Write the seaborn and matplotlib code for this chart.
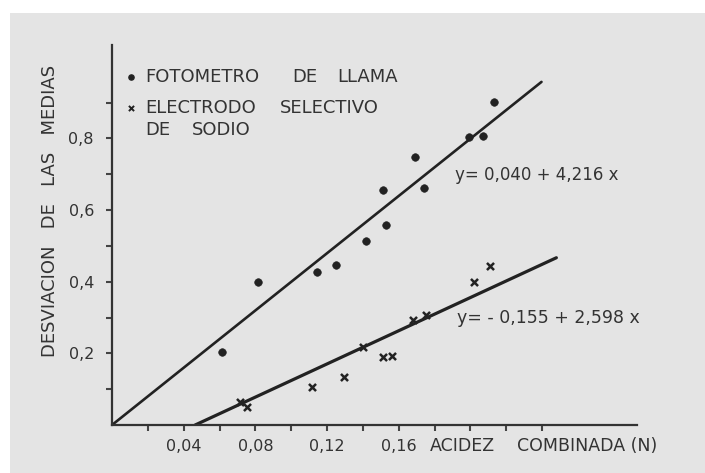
import numpy as np
import pandas as pd
import seaborn as sns
import matplotlib
matplotlib.use('Agg')
import matplotlib.pyplot as plt
from matplotlib.ticker import FixedLocator, FuncFormatter

# fotometro de llama (dots)
foto_x = [0.0615, 0.0816, 0.1145, 0.125, 0.142, 0.151, 0.153, 0.169, 0.174, 0.199, 0.207, 0.213]
foto_y = [0.204, 0.400, 0.427, 0.447, 0.514, 0.656, 0.559, 0.749, 0.662, 0.804, 0.807, 0.902]

# electrodo selectivo de sodio (crosses)
elec_x = [0.0715, 0.0754, 0.1117, 0.1296, 0.140, 0.151, 0.156, 0.168, 0.175, 0.202, 0.211]
elec_y = [0.064, 0.050, 0.106, 0.134, 0.218, 0.190, 0.193, 0.293, 0.307, 0.399, 0.444]

# fitted lines as drawn on the original figure
line1_x = [0.0, 0.2397]
line1_y = [0.0, 0.958]
line2_x = [0.0464, 0.248]
line2_y = [0.0, 0.467]

eq1 = 'y= 0,040 + 4,216 x'
eq2 = 'y= - 0,155 + 2,598 x'
xlabels = [0.04, 0.08, 0.12, 0.16]
ylabels = [0.2, 0.4, 0.6, 0.8]

bg = '#e4e4e4'
ink = '#222222'
txt = '#333333'
sns.set_style('white', {'axes.facecolor': bg, 'figure.facecolor': bg})
plt.rcParams['font.family'] = ['DejaVu Sans']

W, H = 705, 473
fig = plt.figure(figsize=(7.05, 4.73), dpi=100)
fig.patch.set_facecolor(bg)
# white strip on top/left of the scan
fig.patches.append(plt.Rectangle((0, 0), 10/W, 1, transform=fig.transFigure,
                                 facecolor='white', edgecolor='none', zorder=-1))
fig.patches.append(plt.Rectangle((0, 1 - 13/H), 1, 13/H, transform=fig.transFigure,
                                 facecolor='white', edgecolor='none', zorder=-1))
ax = fig.add_axes([112/W, 48/H, 525/W, 380/H])
ax.set_facecolor(bg)

df1 = pd.DataFrame({'x': foto_x, 'y': foto_y})
df2 = pd.DataFrame({'x': elec_x, 'y': elec_y})
sns.lineplot(x=line1_x, y=line1_y, color=ink, lw=1.9, ax=ax)
sns.lineplot(x=line2_x, y=line2_y, color=ink, lw=2.3, ax=ax)
sns.scatterplot(data=df1, x='x', y='y', marker='o', s=30, color=ink, edgecolor=ink, ax=ax)
sns.scatterplot(data=df2, x='x', y='y', marker='x', s=26, color=ink, linewidth=1.8, ax=ax)

ax.set_xlim(0, 0.293)
ax.set_ylim(0, 1.061)
for s in ['top', 'right']:
    ax.spines[s].set_visible(False)
for s in ['left', 'bottom']:
    ax.spines[s].set_color('#333333')
    ax.spines[s].set_linewidth(1.6)

ax.xaxis.set_major_locator(FixedLocator(xlabels))
ax.xaxis.set_minor_locator(FixedLocator([0.02, 0.06, 0.10, 0.14, 0.18, 0.20, 0.22, 0.24]))
ax.yaxis.set_major_locator(FixedLocator(ylabels))
ax.yaxis.set_minor_locator(FixedLocator([0.1, 0.3, 0.5, 0.7, 0.9]))
fmt = FuncFormatter(lambda v, p: ('%g' % v).replace('.', ','))
ax.xaxis.set_major_formatter(fmt)
ax.yaxis.set_major_formatter(fmt)
ax.tick_params(which='both', direction='out', length=4, width=1.5, color='#444444',
               labelsize=11.5, labelcolor=txt, bottom=True, left=True)
ax.tick_params(axis='x', pad=6)
ax.tick_params(axis='y', pad=9)
ax.set_xlabel('')
ax.set_ylabel('DESVIACION   DE   LAS   MEDIAS', fontsize=13, color=txt)
ax.yaxis.set_label_coords(-0.1, 0.563)

# legend drawn by hand like the original lettering, one word at a time
def px(xp):
    return (xp - 112) / 1790

ax.scatter([px(131)], [0.972], marker='o', s=14, color=ink)
ax.scatter([px(131)], [0.885], marker='x', s=14, color=ink, linewidth=1.4)
legend_words = [('FOTOMETRO', 145, 0.972), ('DE', 292, 0.972), ('LLAMA', 337, 0.972),
                ('ELECTRODO', 145, 0.885), ('SELECTIVO', 280, 0.885),
                ('DE', 145, 0.824), ('SODIO', 192, 0.824)]
for w, xp, yv in legend_words:
    ax.text(px(xp), yv, w, fontsize=13, color=txt, va='center')

ax.text(0.1916, 0.698, eq1, fontsize=12, color=txt, va='center')
ax.text(0.1927, 0.299, eq2, fontsize=12.5, color=txt, va='center')

fig.text(430/W, 1 - 446/H, 'ACIDEZ', fontsize=12.5, color=txt, va='center')
fig.text(517/W, 1 - 446/H, 'COMBINADA (N)', fontsize=12.5, color=txt, va='center')

fig.savefig('out.png', dpi=100, facecolor=fig.get_facecolor())
